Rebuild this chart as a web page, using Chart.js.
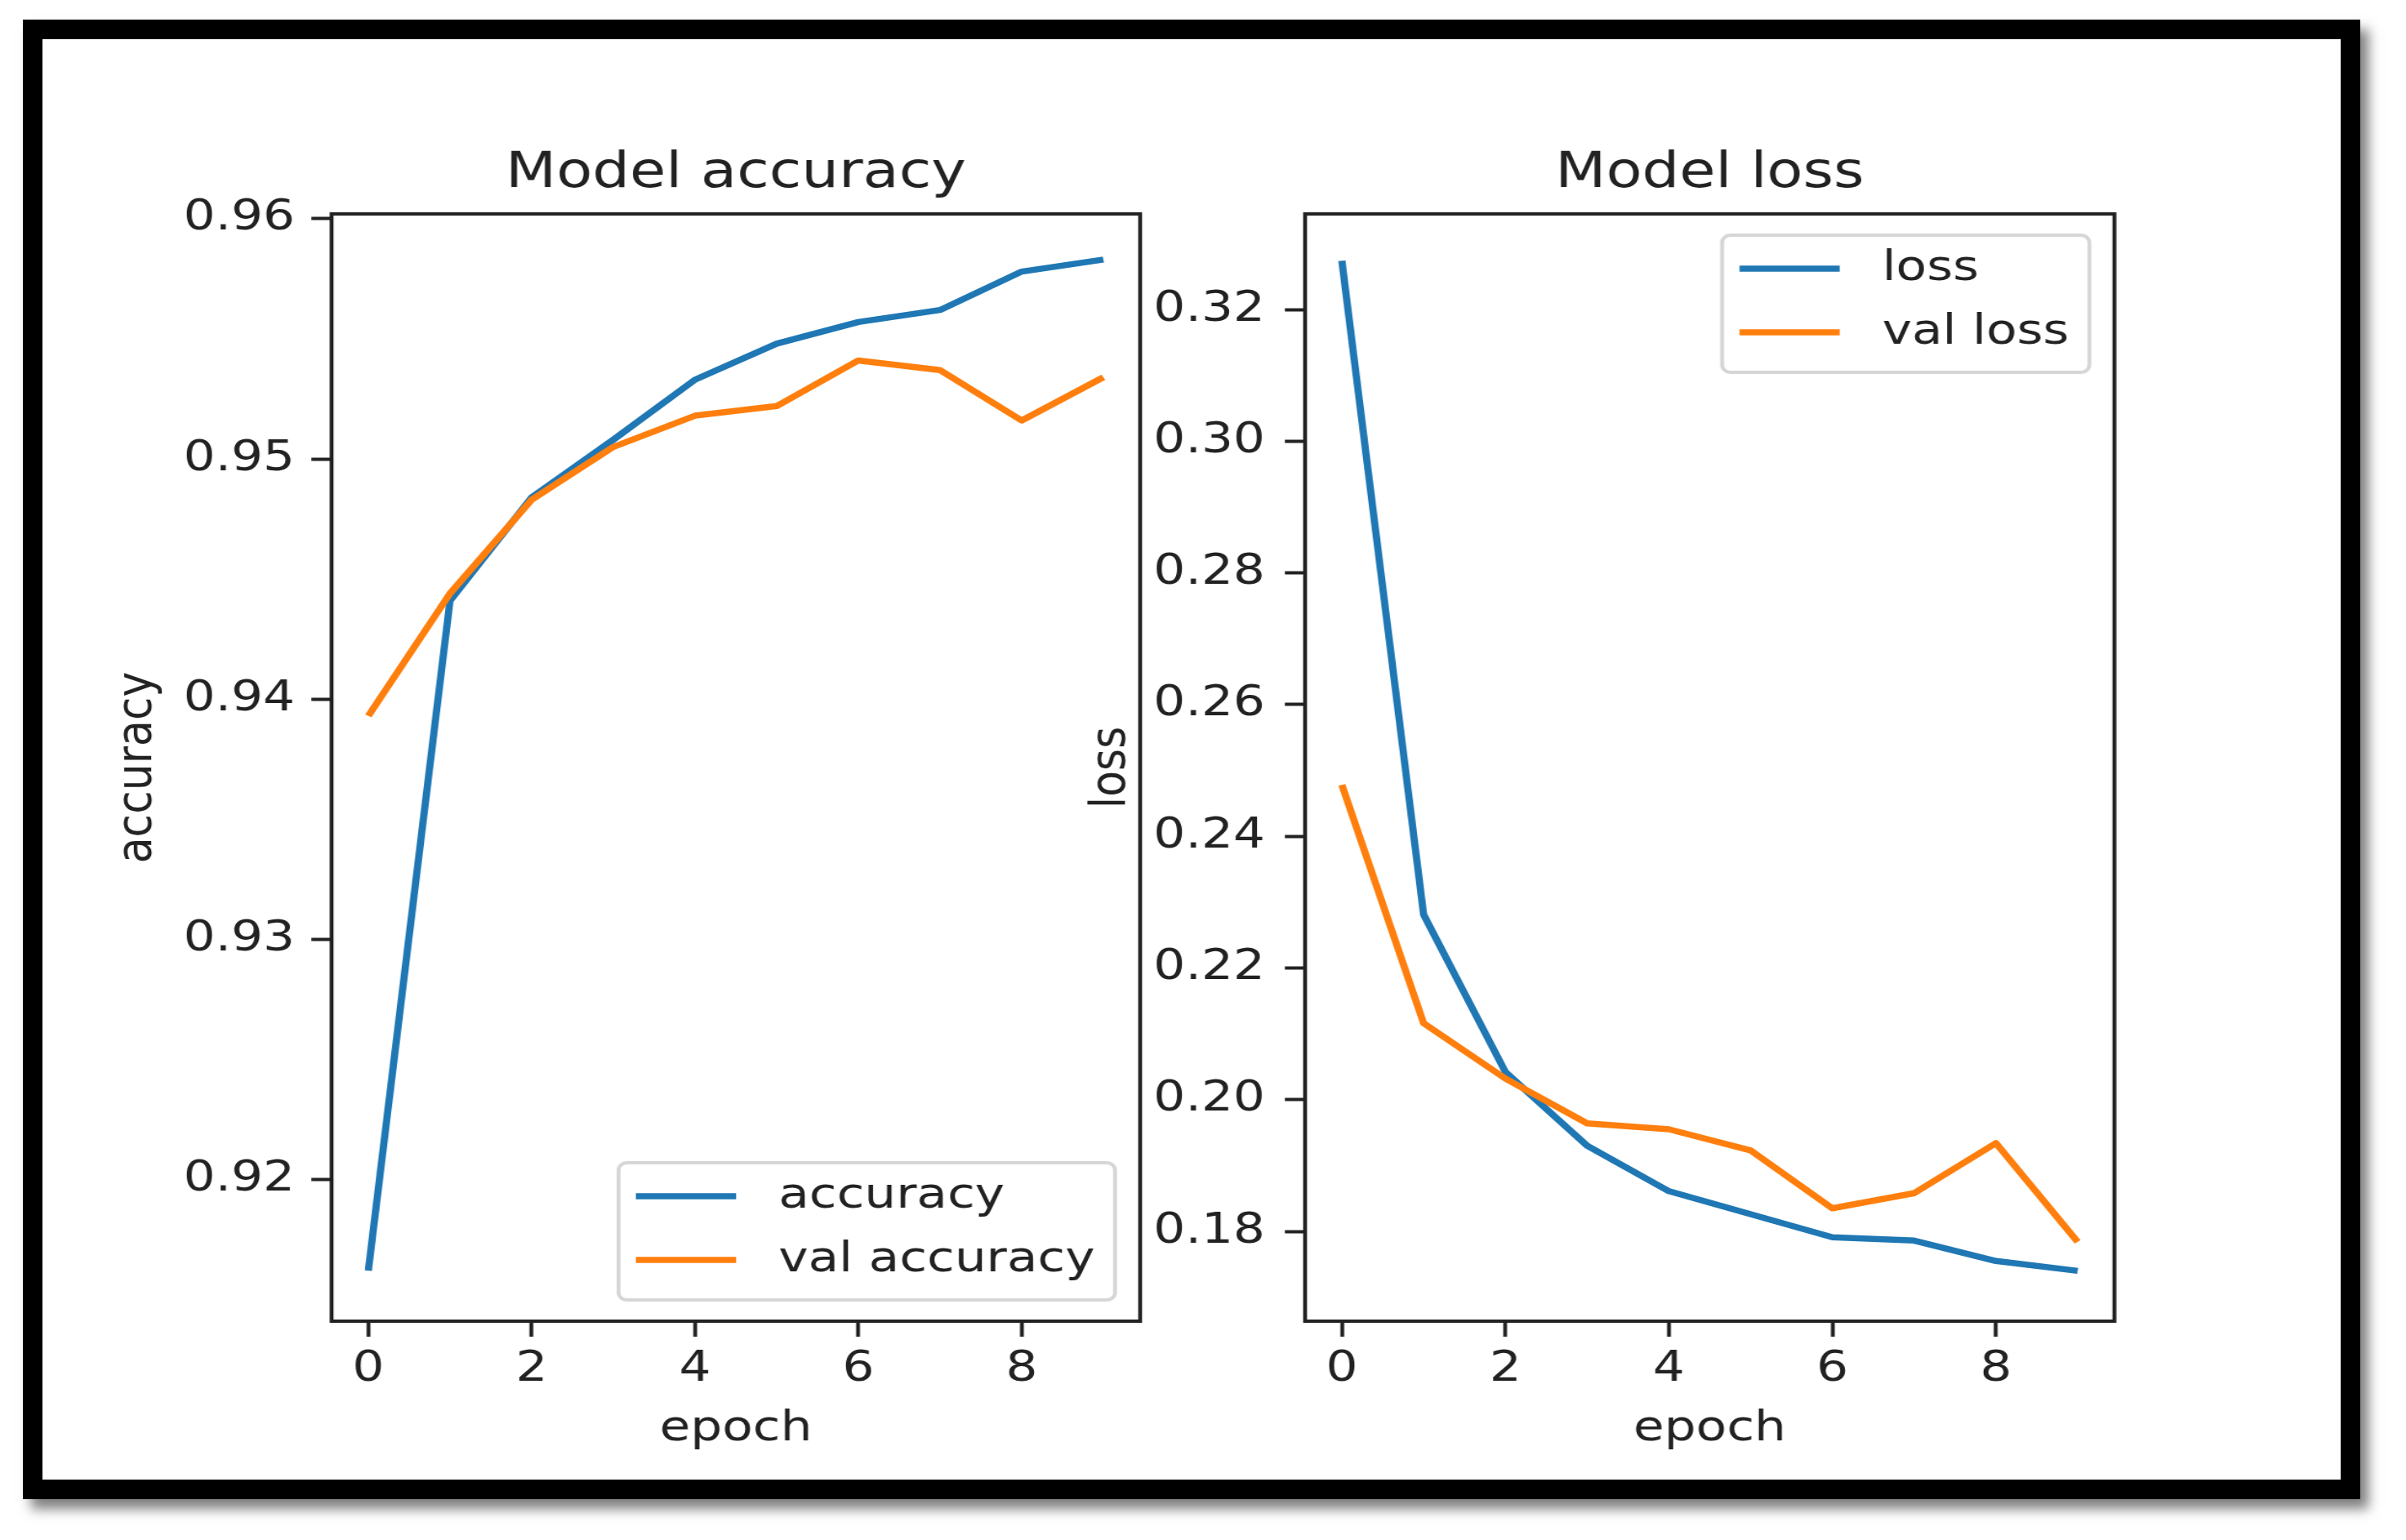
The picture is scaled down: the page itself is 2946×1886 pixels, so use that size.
<!DOCTYPE html>
<html>
<head>
<meta charset="utf-8">
<title>Model accuracy / Model loss</title>
<script src="https://cdn.jsdelivr.net/npm/chart.js@4.4.1/dist/chart.umd.min.js"></script>
<style>
  html, body { margin: 0; padding: 0; background: #fff; width: 2946px; height: 1886px; overflow: hidden; }
  .frame {
    position: absolute; left: 28px; top: 24px; width: 2814px; height: 1764px;
    border: 24px solid #000; box-shadow: 10px 12px 14px rgba(0, 0, 0, 0.5);
  }
  /* the source picture is stretched sideways, so each panel is too */
  .panel { position: absolute; top: 100px; width: 1200px; height: 1700px; transform: scaleX(1.18); transform-origin: 0 0; }
</style>
</head>
<body>
<div class="frame"></div>
<div class="panel" style="left:60px"><canvas id="accChart"></canvas></div>
<div class="panel" style="left:1250px"><canvas id="lossChart"></canvas></div>

<script>
const epochs = [0, 1, 2, 3, 4, 5, 6, 7, 8, 9];
const accuracy = [0.9162, 0.9441, 0.9484, 0.9508, 0.9533, 0.9548, 0.9557, 0.9562, 0.9578, 0.9583];
const valAccuracy = [0.9393, 0.9444, 0.9483, 0.9505, 0.9518, 0.9522, 0.9541, 0.9537, 0.9516, 0.9534];
const loss = [0.3274, 0.2281, 0.2042, 0.1930, 0.1861, 0.1826, 0.1791, 0.1786, 0.1755, 0.1740];
const valLoss = [0.2478, 0.2116, 0.2032, 0.1964, 0.1955, 0.1923, 0.1835, 0.1858, 0.1934, 0.1784];

const epochTicks = [0, 2, 4, 6, 8];
const accuracyTicks = [0.92, 0.93, 0.94, 0.95, 0.96];
const lossTicks = [0.18, 0.20, 0.22, 0.24, 0.26, 0.28, 0.30, 0.32];

const BLUE = '#1f77b4';
const ORANGE = '#ff7f0e';
const INK = '#222';

Chart.defaults.font.family = '"DejaVu Sans", sans-serif';
Chart.defaults.color = INK;

// black box around the plot area, like matplotlib spines
const axesFrame = {
    id: 'axesFrame',
    afterDatasetsDraw(chart) {
        const { ctx, chartArea: a } = chart;
        ctx.save();
        ctx.strokeStyle = INK;
        ctx.lineWidth = 4;
        ctx.strokeRect(a.left, a.top, a.right - a.left, a.bottom - a.top);
        ctx.restore();
    }
};

// legend drawn inside the axes
const boxLegend = {
    id: 'boxLegend',
    afterDraw(chart, args, opts) {
        const { ctx, chartArea: a } = chart;
        const ds = chart.data.datasets;
        ctx.save();
        ctx.font = '52px "DejaVu Sans"';
        const textW = Math.max(...ds.map(d => ctx.measureText(d.label).width));
        const w = 166 + textW + 21;
        const h = 168;
        const x = a.right - 26 - w;
        const y = opts.corner === 'upper right' ? a.top + 26 : a.bottom - 26 - h;
        ctx.beginPath();
        ctx.roundRect(x, y, w, h, 9);
        ctx.fillStyle = 'rgba(255,255,255,0.8)';
        ctx.fill();
        ctx.lineWidth = 4;
        ctx.strokeStyle = 'rgba(204,204,204,0.8)';
        ctx.stroke();
        ds.forEach((d, i) => {
            const cy = y + 41 + i * 78;
            ctx.beginPath();
            ctx.moveTo(x + 18, cy);
            ctx.lineTo(x + 122, cy);
            ctx.strokeStyle = d.borderColor;
            ctx.lineWidth = d.borderWidth;
            ctx.lineCap = 'butt';
            ctx.stroke();
            ctx.fillStyle = INK;
            ctx.textBaseline = 'middle';
            ctx.textAlign = 'left';
            ctx.fillText(d.label, x + 166, cy);
        });
        ctx.restore();
    }
};

const points = values => epochs.map((e, i) => ({ x: e, y: values[i] }));

const line = (label, values, color, order) => ({
    label,
    data: points(values),
    borderColor: color,
    backgroundColor: color,
    borderWidth: 7.5,
    borderJoinStyle: 'round',
    pointRadius: 0,
    tension: 0,
    order
});

function makeChart(id, p) {
    return new Chart(document.getElementById(id), {
        type: 'line',
        data: {
            datasets: [
                line(p.names[0], p.train, BLUE, 1),
                line(p.names[1], p.val, ORANGE, 0)
            ]
        },
        options: {
            responsive: true,
            maintainAspectRatio: false,
            animation: false,
            events: [],
            layout: { padding: { left: 0, right: p.padRight, top: 0, bottom: 0 } },
            plugins: {
                legend: { display: false },
                tooltip: { enabled: false },
                title: {
                    display: true,
                    text: p.title,
                    fullSize: false,
                    color: INK,
                    font: { size: 61, weight: 'normal' },
                    padding: { top: 77, bottom: 11.8 }
                },
                boxLegend: { corner: p.corner }
            },
            scales: {
                x: {
                    type: 'linear',
                    min: -0.45,
                    max: 9.45,
                    afterBuildTicks: s => { s.ticks = epochTicks.map(v => ({ value: v })); },
                    afterFit: s => { s.height = 182; },
                    border: { display: false },
                    grid: { display: true, drawOnChartArea: false, drawTicks: true, tickLength: 19, tickWidth: 4, tickColor: INK },
                    ticks: { font: { size: 52 }, color: INK, padding: 9.5, maxRotation: 0 },
                    title: { display: true, text: 'epoch', color: INK, font: { size: 52, weight: 'normal' }, padding: { top: 0, bottom: 18 } }
                },
                y: {
                    type: 'linear',
                    min: p.yMin,
                    max: p.yMax,
                    afterBuildTicks: s => { s.ticks = p.yTicks.map(v => ({ value: v })); },
                    afterFit: s => { s.width = p.yWidth; },
                    border: { display: false },
                    grid: { display: true, drawOnChartArea: false, drawTicks: true, tickLength: 21, tickWidth: 4, tickColor: INK },
                    ticks: { font: { size: 52 }, color: INK, padding: p.tickPad, callback: v => v.toFixed(2) },
                    title: { display: true, text: p.yLabel, color: INK, font: { size: 52, weight: 'normal' }, padding: { top: p.yTitlePad, bottom: 0 } }
                }
            }
        },
        plugins: [axesFrame, boxLegend]
    });
}

makeChart('accChart', {
    title: 'Model accuracy',
    yLabel: 'accuracy',
    names: ['accuracy', 'val accuracy'],
    train: accuracy,
    val: valAccuracy,
    yTicks: accuracyTicks,
    yMin: 0.9141,
    yMax: 0.9602,
    yWidth: 293.2,
    padRight: 67.8,
    tickPad: 17,
    yTitlePad: 61,
    corner: 'lower right'
});

makeChart('lossChart', {
    title: 'Model loss',
    yLabel: 'loss',
    names: ['loss', 'val loss'],
    train: loss,
    val: valLoss,
    yTicks: lossTicks,
    yMin: 0.16636,
    yMax: 0.33451,
    yWidth: 294.9,
    padRight: 65.3,
    tickPad: 20.5,
    yTitlePad: 63.5,
    corner: 'upper right'
});
</script>
</body>
</html>
